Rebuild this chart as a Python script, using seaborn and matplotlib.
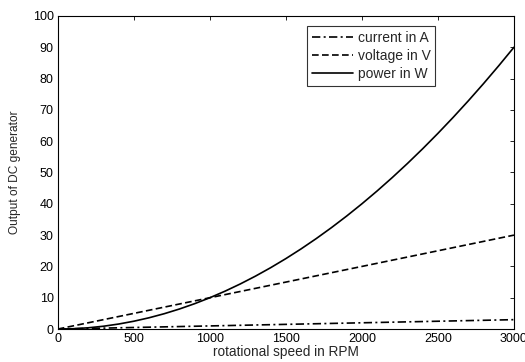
import pandas as pd
import matplotlib
matplotlib.use("Agg")
import matplotlib.pyplot as plt
import seaborn as sns

# values
rpm = [0, 100, 200, 300, 400, 500, 600, 700, 800, 900, 1000,
       1100, 1200, 1300, 1400, 1500, 1600, 1700, 1800, 1900, 2000,
       2100, 2200, 2300, 2400, 2500, 2600, 2700, 2800, 2900, 3000]
current = [0.0, 0.1, 0.2, 0.3, 0.4, 0.5, 0.6, 0.7, 0.8, 0.9, 1.0,
           1.1, 1.2, 1.3, 1.4, 1.5, 1.6, 1.7, 1.8, 1.9, 2.0,
           2.1, 2.2, 2.3, 2.4, 2.5, 2.6, 2.7, 2.8, 2.9, 3.0]
voltage = [0, 1, 2, 3, 4, 5, 6, 7, 8, 9, 10,
           11, 12, 13, 14, 15, 16, 17, 18, 19, 20,
           21, 22, 23, 24, 25, 26, 27, 28, 29, 30]
power = [0, 0.1, 0.4, 0.9, 1.6, 2.5, 3.6, 4.9, 6.4, 8.1, 10,
         12.1, 14.4, 16.9, 19.6, 22.5, 25.6, 28.9, 32.4, 36.1, 40,
         44.1, 48.4, 52.9, 57.6, 62.5, 67.6, 72.9, 78.4, 84.1, 90]
x_ticks = [0, 500, 1000, 1500, 2000, 2500, 3000]
y_ticks = [0, 10, 20, 30, 40, 50, 60, 70, 80, 90, 100]

sns.set_style("white")
plt.rcParams['font.family'] = ['Liberation Sans', 'DejaVu Sans']

df = pd.DataFrame({'rpm': rpm, 'current': current, 'voltage': voltage, 'power': power})

fig = plt.figure(figsize=(5.25, 3.62), dpi=100)
ax = fig.add_axes([0.110, 0.091, 0.869, 0.865])

sns.lineplot(data=df, x='rpm', y='current', ax=ax, color='black', lw=1.2,
             linestyle=(0, (5, 2, 1.2, 2)), label='current in A')
sns.lineplot(data=df, x='rpm', y='voltage', ax=ax, color='black', lw=1.2,
             linestyle=(0, (4, 2)), label='voltage in V')
sns.lineplot(data=df, x='rpm', y='power', ax=ax, color='black', lw=1.2,
             linestyle='-', label='power in W')

ax.set_xlim(0, 3000)
ax.set_ylim(0, 100)
ax.set_xticks(x_ticks)
ax.set_yticks(y_ticks)
ax.tick_params(direction='in', length=3, width=0.6, top=True, right=True,
               labelsize=9, colors='black', pad=3)
for s in ax.spines.values():
    s.set_color('black')
    s.set_linewidth(0.8)
    s.set_visible(True)

ax.set_xlabel('rotational speed in RPM', fontsize=9.8, labelpad=0)
ax.set_ylabel('Output of DC generator', fontsize=8.6, labelpad=8)

leg = ax.legend(loc='upper left', bbox_to_anchor=(0.546, 0.968), borderaxespad=0,
                fontsize=10, frameon=True, fancybox=False, handlelength=3.0,
                borderpad=0.35, labelspacing=0.3, handletextpad=0.3)
leg.get_frame().set_edgecolor('black')
leg.get_frame().set_linewidth(0.8)

fig.savefig('out.png', dpi=100)
